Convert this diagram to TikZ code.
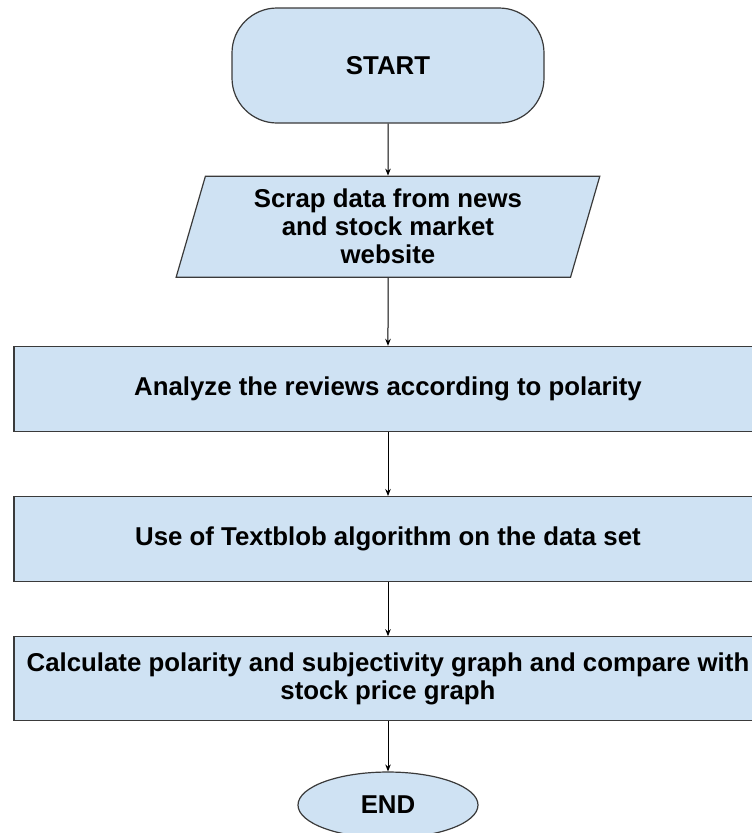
\documentclass[tikz,border=0pt]{standalone}
\usepackage{fontspec}
\setmainfont{Liberation Sans}
\usepackage{tikz}
\usetikzlibrary{shapes.geometric, arrows.meta, positioning}
\definecolor{boxblue}{HTML}{CFE2F3}
\definecolor{boxline}{HTML}{3A3A3A}

\begin{document}
\begin{tikzpicture}[
    x=1pt, y=1pt,
    node distance=55pt,
    shapebase/.style={draw=boxline, fill=boxblue, line width=1.2pt, align=center, inner sep=0pt, font=\fontsize{25.8}{28}\selectfont\bfseries},
    startbox/.style={shapebase, rectangle, rounded corners=45pt, minimum width=312pt, minimum height=115pt},
    iobox/.style={shapebase, trapezium, trapezium left angle=74, trapezium right angle=106, trapezium stretches=true, minimum width=425pt, minimum height=101pt},
    box/.style={shapebase, rectangle, minimum width=748pt, minimum height=85pt},
    endbox/.style={shapebase, ellipse, minimum width=180pt, minimum height=66pt},
    arrow/.style={-{Stealth[length=7pt, width=5.5pt]}, line width=1pt, black}
]
\useasboundingbox (0,0) rectangle (752,-833);
\clip (0,0) rectangle (752,-833);

\node[startbox] (start) at (388,-65.5) {START};
\node[iobox, below=52pt of start] (scrap) {Scrap data from news\\and stock market\\website};
\node[box, below=68pt of scrap] (analyze) {Analyze the reviews according to polarity};
\node[box, below=64pt of analyze] (textblob) {Use of Textblob algorithm on the data set};
\node[box, below=54pt of textblob, minimum height=84pt] (compare) {Calculate polarity and subjectivity graph and compare with\\stock price graph};
\node[endbox, below=50pt of compare] (end) {END};

\draw[arrow] (start) -- (scrap);
\draw[arrow] (scrap) -- (analyze);
\draw[arrow] (analyze) -- (textblob);
\draw[arrow] (textblob) -- (compare);
\draw[arrow] (compare) -- (end);

\end{tikzpicture}
\end{document}
